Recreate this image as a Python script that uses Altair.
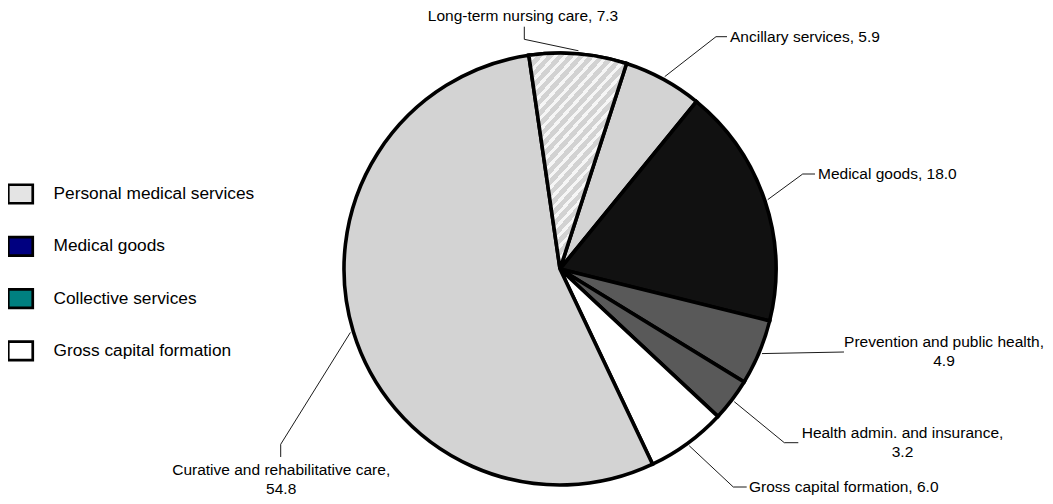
import math
import altair as alt
import pandas as pd

# ---------------- data ----------------
categories = [
    "Long-term nursing care",
    "Ancillary services",
    "Medical goods",
    "Prevention and public health",
    "Health admin. and insurance",
    "Gross capital formation",
    "Curative and rehabilitative care",
]
values = [7.3, 5.9, 18.0, 4.9, 3.2, 6.0, 54.8]
slice_colors = ["#d3d3d3", "#d3d3d3", "#111111", "#595959", "#595959", "#ffffff", "#d3d3d3"]
hatched = ["Long-term nursing care"]

legend_names = ["Personal medical services", "Medical goods", "Collective services", "Gross capital formation"]
legend_colors = ["#e4e4e4", "#000080", "#008080", "#ffffff"]

# ---------------- style / layout ----------------
W, H = 1037, 488
CX, CY = 552, 261          # pie centre (px inside the chart)
R = 216                    # pie radius
R_LEAD = 219               # where leader lines touch the pie
START = math.radians(-8.3)
FONT = "Liberation Sans"
LABEL_SIZE = 15.5
LINE_H = 19

# label placement relative to the pie centre: elbow, end of leader, text anchor, align, two lines?
label_layout = [
    ((-35.7, -229.7), (-35.7, -242.3), (-37.0, -253.0), "center", False),
    ((156.0, -232.3), (167.0, -232.3), (170.0, -232.3), "left", False),
    ((242.7, -95.0), (255.0, -95.0), (258.0, -95.0), "left", False),
    ((284.0, 83.0), (284.0, 83.0), (384.0, 72.7), "center", True),
    ((224.3, 173.7), (238.3, 173.7), (342.5, 164.3), "center", True),
    ((173.3, 218.0), (186.7, 218.0), (189.0, 218.0), "left", False),
    ((-279.3, 175.3), (-279.3, 188.0), (-278.8, 201.0), "center", True),
]

rows = []
for i, (cat, val, col, lay) in enumerate(zip(categories, values, slice_colors, label_layout)):
    (edx, edy), (ndx, ndy), (tdx, tdy), align, split = lay
    if split:
        l1, l2 = f"{cat},", f"{val:.1f}"
    else:
        l1, l2 = f"{cat}, {val:.1f}", ""
    rows.append(dict(idx=i, category=cat, value=val, fill=col,
                     ex=CX + edx, ey=CY + edy, nx=CX + ndx, ny=CY + ndy,
                     tx=CX + tdx, ty=CY + tdy, align=align, line1=l1, line2=l2))
df = pd.DataFrame(rows)

base = (
    alt.Chart(df)
    .transform_joinaggregate(total="sum(value)")
    .transform_window(cum="sum(value)", sort=[alt.SortField("idx")], frame=[None, 0])
    .transform_calculate(
        a0=f"{START} + 2*PI*(datum.cum - datum.value)/datum.total",
        a1=f"{START} + 2*PI*datum.cum/datum.total",
    )
    .transform_calculate(
        am="(datum.a0 + datum.a1)/2",
    )
    .transform_calculate(
        px=f"{CX} + {R_LEAD}*sin(datum.am)",
        py=f"{CY} - {R_LEAD}*cos(datum.am)",
        ty2=f"datum.ty + {LINE_H}",
    )
)

pie = base.mark_arc(radius=R, stroke="black", strokeWidth=3.6, strokeJoin="miter").encode(
    theta=alt.Theta("a0:Q", scale=None),
    theta2=alt.Theta2("a1:Q"),
    fill=alt.Fill("fill:N", scale=None),
    x=alt.value(CX),
    y=alt.value(CY),
)

# diagonal hatch built from a hard-stop linear gradient
grey, light = "#d2d2d2", "#f6f6f6"
n_per = 47
p = 1.0 / n_per
stops = []
for i in range(n_per):
    a = round(i * p, 5)
    b = round(i * p + 0.6 * p, 5)
    c = round(min((i + 1) * p, 1.0), 5)
    stops += [
        alt.GradientStop(offset=a, color=grey),
        alt.GradientStop(offset=b, color=grey),
        alt.GradientStop(offset=b, color=light),
        alt.GradientStop(offset=c, color=light),
    ]
hatch_fill = alt.LinearGradient(gradient="linear", stops=stops, x1=0, y1=0, x2=1, y2=2.0)

hatch = (
    base.transform_filter(alt.FieldOneOfPredicate(field="category", oneOf=hatched))
    .mark_arc(radius=R, stroke="black", strokeWidth=3.6, fill=hatch_fill)
    .encode(
        theta=alt.Theta("a0:Q", scale=None),
        theta2=alt.Theta2("a1:Q"),
        x=alt.value(CX),
        y=alt.value(CY),
    )
)

lead1 = base.mark_rule(color="black", strokeWidth=0.9).encode(
    x=alt.X("px:Q", scale=None), y=alt.Y("py:Q", scale=None),
    x2="ex:Q", y2="ey:Q",
)
lead2 = base.mark_rule(color="black", strokeWidth=0.9).encode(
    x=alt.X("ex:Q", scale=None), y=alt.Y("ey:Q", scale=None),
    x2="nx:Q", y2="ny:Q",
)

txt_kw = dict(font=FONT, fontSize=LABEL_SIZE, color="black", baseline="middle")
text_left = base.transform_filter("datum.align == 'left'").mark_text(align="left", **txt_kw).encode(
    x=alt.X("tx:Q", scale=None), y=alt.Y("ty:Q", scale=None), text="line1:N"
)
text_center = base.transform_filter("datum.align == 'center'").mark_text(align="center", **txt_kw).encode(
    x=alt.X("tx:Q", scale=None), y=alt.Y("ty:Q", scale=None), text="line1:N"
)
text_second = base.transform_filter("datum.line2 != ''").mark_text(align="center", **txt_kw).encode(
    x=alt.X("tx:Q", scale=None), y=alt.Y("ty2:Q", scale=None), text="line2:N"
)

legend_df = pd.DataFrame({"name": legend_names})
legend_layer = (
    alt.Chart(legend_df)
    .transform_filter("false")
    .mark_rect()
    .encode(
        color=alt.Color(
            "name:N",
            scale=alt.Scale(domain=legend_names, range=legend_colors),
            legend=alt.Legend(
                title=None,
                orient="none",
                legendX=-1.5,
                legendY=172,
                symbolType="M-1,-0.755H1V0.755H-1Z",
                symbolSize=600,
                symbolStrokeColor="black",
                symbolStrokeWidth=2.7,
                symbolOpacity=1,
                labelFont=FONT,
                labelFontSize=17.3,
                labelColor="black",
                labelLimit=400,
                labelOffset=19,
                rowPadding=22.3,
            ),
        )
    )
)

chart = (
    alt.layer(pie, hatch, lead1, lead2, text_left, text_center, text_second, legend_layer)
    .properties(width=W, height=H, padding=0, autosize=alt.AutoSizeParams(type="none"), background="white")
    .configure_view(strokeWidth=0)
)

chart.save("out.html", embed_options={"renderer": "svg", "actions": False})
